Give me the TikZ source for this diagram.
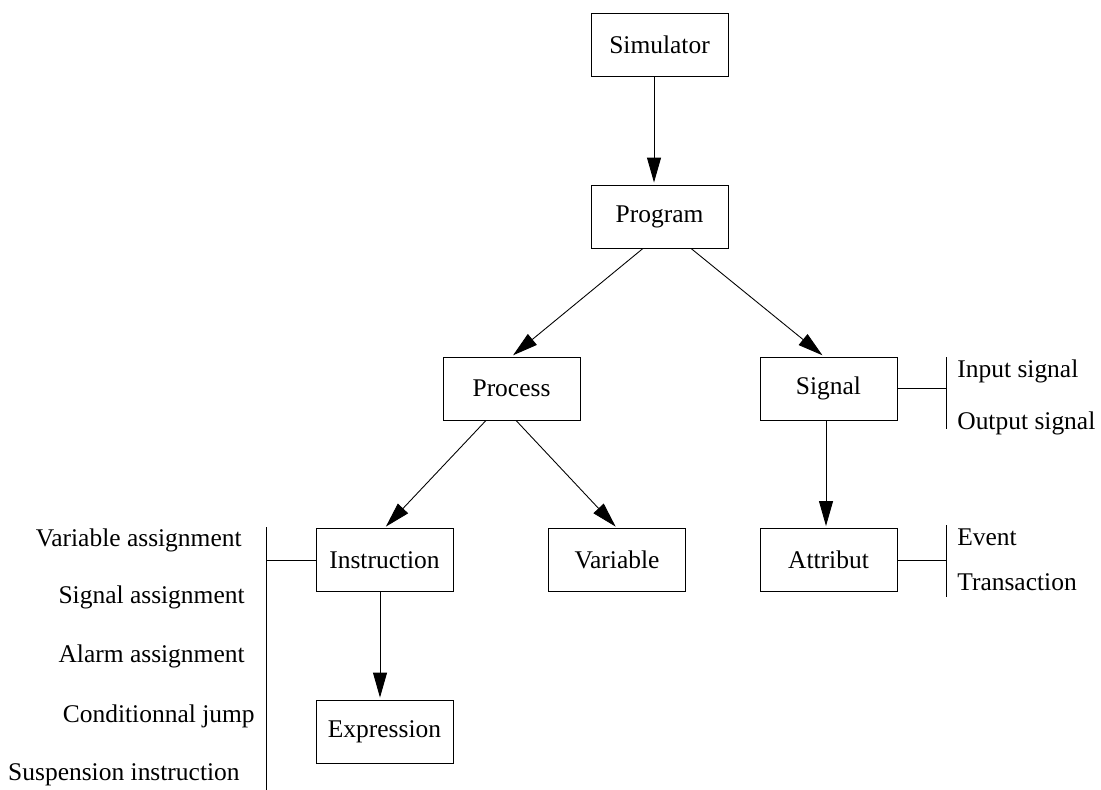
\documentclass[tikz,border=0pt]{standalone}
\usepackage{fontspec}
\setmainfont{Liberation Serif}
\usetikzlibrary{arrows.meta}

\begin{document}
\begin{tikzpicture}[x=0.02cm,y=-0.02cm,
        box/.style={draw,line width=0.5pt,minimum width=2.74cm,minimum height=1.26cm,inner sep=0pt},
        arr/.style={-{Triangle[length=5mm,width=2.8mm]},line width=0.5pt,shorten >=0.04cm},
        item/.style={inner sep=0pt}]
        \fontsize{14.5}{16}\selectfont
        \useasboundingbox (0,0) rectangle (1101,790);
        % main boxes
        \node[box] (sim) at (659.5,45) {Simulator};
        \node[box] (prog) at (659.5,216.5) {Program};
        \node[box] (proc) at (511.5,388.5) {Process};
        \node[box] (sig) at (828.5,388.5) {Signal};
        \node[box] (instr) at (384.5,560) {Instruction};
        \node[box] (var) at (617,560) {Variable};
        \node[box] (attr) at (828.5,560) {Attribut};
        \node[box] (expr) at (384.5,731.5) {Expression};
        \draw[arr] ([xshift=-0.11cm]sim.south) -- ([xshift=-0.11cm]prog.north);
        \draw[arr] ([xshift=-0.33cm]prog.south) -- (proc.north);
        \draw[arr] ([xshift=0.63cm]prog.south) -- ([xshift=-0.09cm]sig.north);
        \draw[arr] ([xshift=-0.51cm]proc.south) -- (instr.north);
        \draw[arr] ([xshift=0.09cm]proc.south) -- (var.north);
        \draw[arr] ([xshift=-0.05cm]sig.south) -- ([xshift=-0.05cm]attr.north);
        \draw[arr] ([xshift=-0.09cm]instr.south) -- ([xshift=-0.09cm]expr.north);
        % signal kinds
        \coordinate (sigtop) at (946,357);
        \coordinate (sigbot) at (946,429);
        \draw[line width=0.5pt] (sigtop) -- (sigbot);
        \draw[line width=0.5pt] (sig.east) -- (sig.east -| sigtop);
        \node[item,anchor=base west] (insig) at (957,377) {Input signal};
        \node[item,anchor=base west] (outsig) at (957,429) {Output signal};
        % attributes
        \coordinate (attrtop) at (946,525);
        \coordinate (attrbot) at (946,597);
        \draw[line width=0.5pt] (attrtop) -- (attrbot);
        \draw[line width=0.5pt] (attr.east) -- (attr.east -| attrtop);
        \node[item,anchor=base west] (event) at (957,545) {Event};
        \node[item,anchor=base west] (trans) at (957,590) {Transaction};
        % instruction kinds
        \coordinate (instrtop) at (266,527);
        \coordinate (instrbot) at (266,790);
        \draw[line width=0.5pt] (instrtop) -- (instrbot);
        \draw[line width=0.5pt] (instr.west) -- (instr.west -| instrtop);
        \node[item,anchor=base east] (varas) at (242,546) {Variable assignment};
        \node[item,anchor=base east] (sigas) at (245,603) {Signal assignment};
        \node[item,anchor=base east] (alas) at (245,662) {Alarm assignment};
        \node[item,anchor=base east] (cjump) at (255,722) {Conditionnal jump};
        \node[item,anchor=base east] (susp) at (240,780) {Suspension instruction};
    \end{tikzpicture}
\end{document}
